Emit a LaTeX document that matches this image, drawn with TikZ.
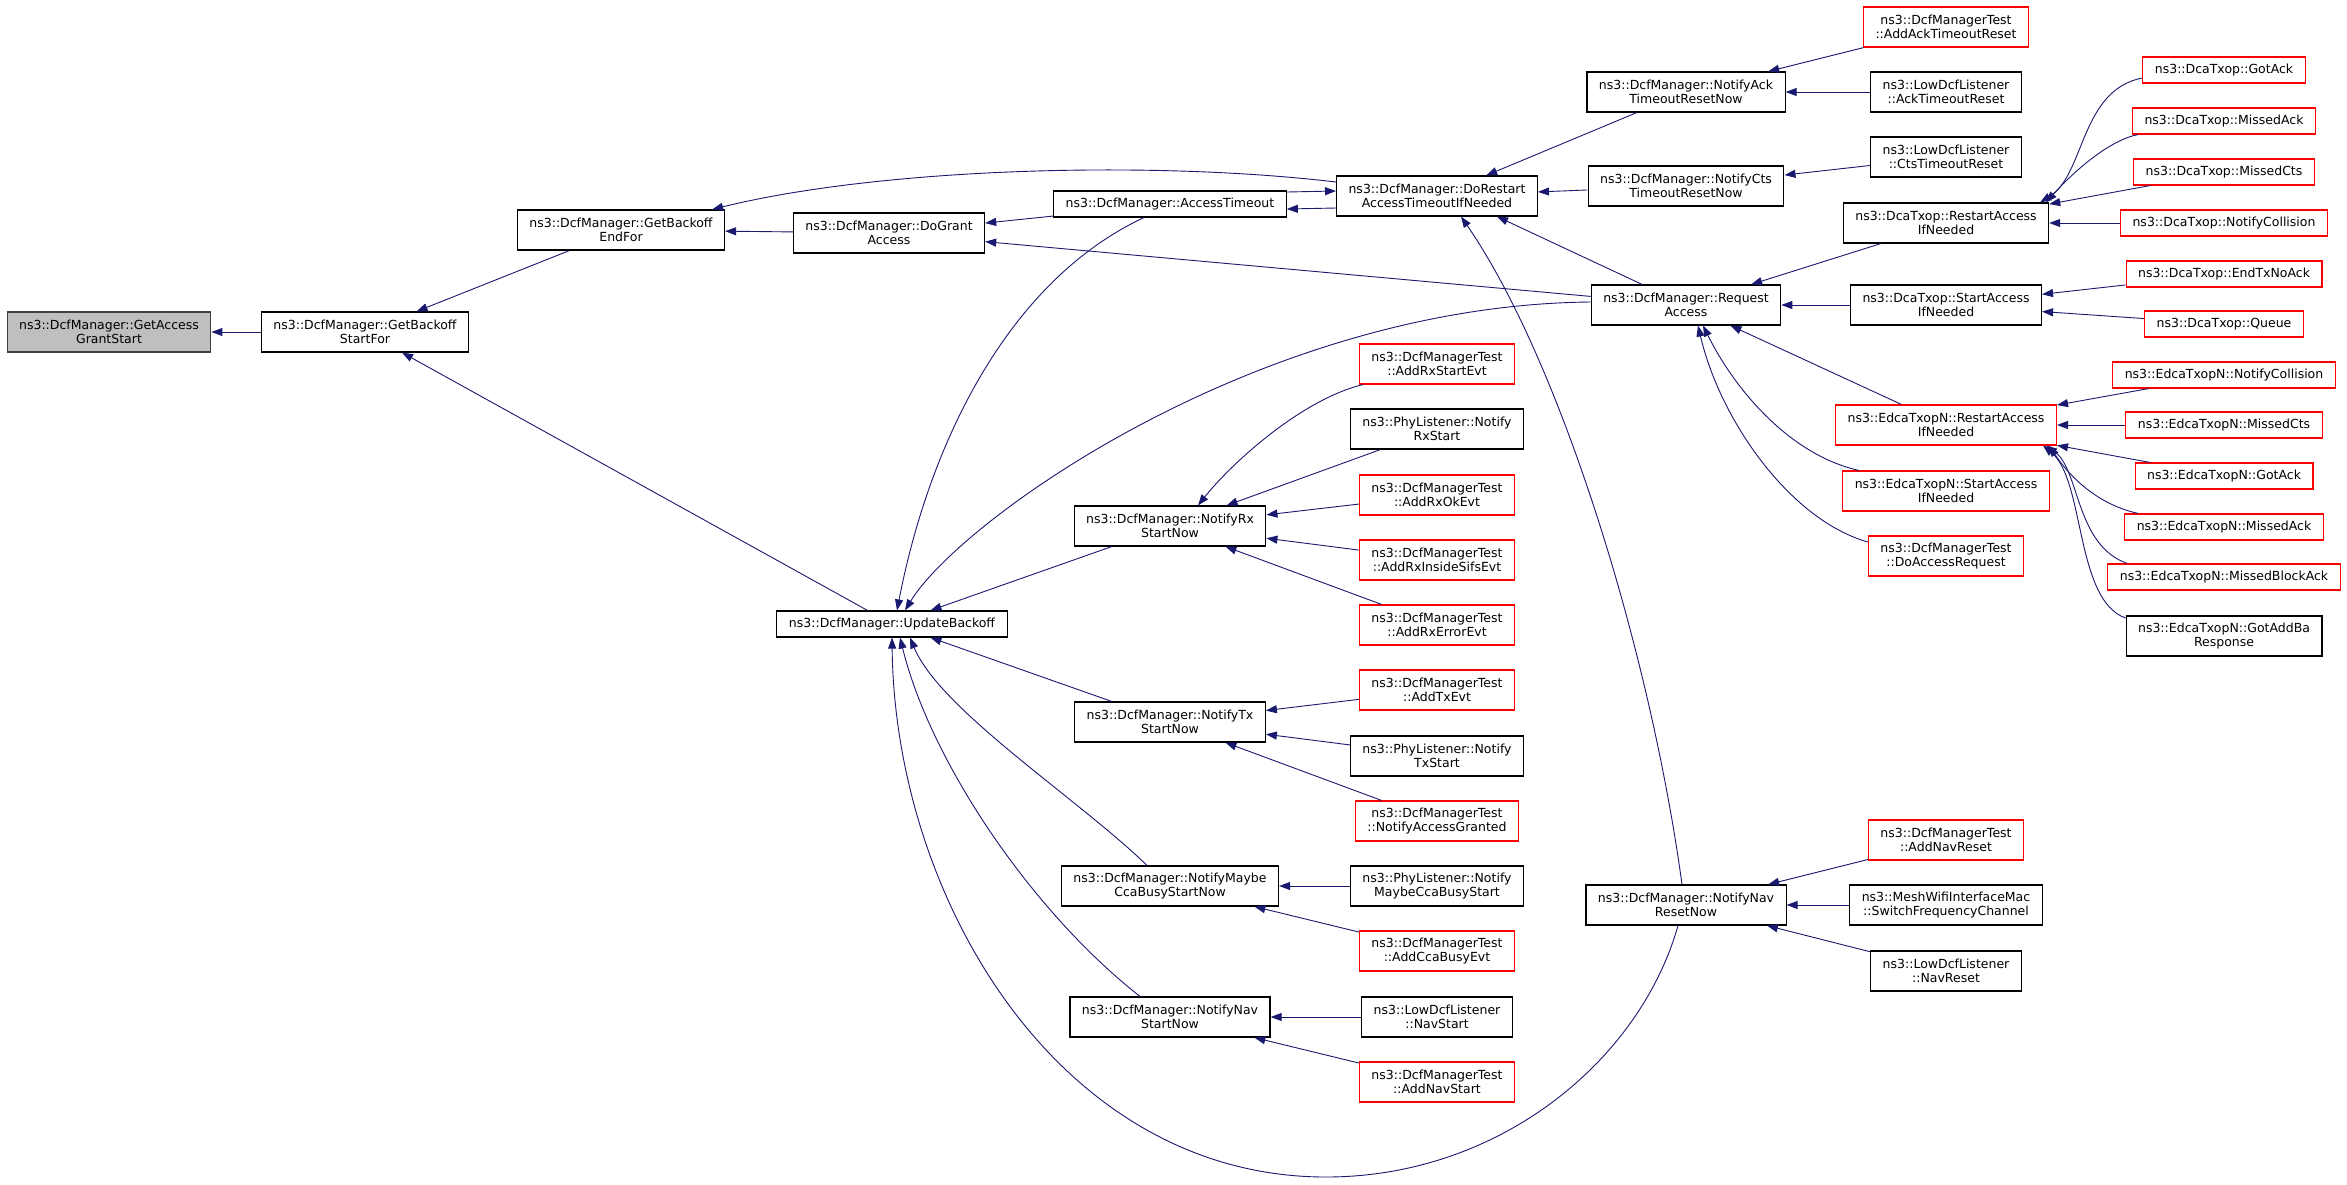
\documentclass[tikz,border=0pt]{standalone}
\usepackage{fontspec}
\setmainfont{DejaVu Sans}
\usepackage{tikz}
\usepackage{xcolor}
\usetikzlibrary{arrows.meta, positioning, calc}
\definecolor{EdgeBlue}{HTML}{191970}
\definecolor{RootGray}{HTML}{BFBFBF}
\definecolor{RootLine}{HTML}{404040}
\definecolor{HotRed}{HTML}{FF0000}

\begin{document}
\begin{tikzpicture}[
    x=1pt, y=-1pt,
    func/.style={rectangle, draw=black, fill=white, line width=1.1pt, align=center,
                 font=\fontsize{12.5}{14.5}\selectfont, inner xsep=12pt, inner ysep=0pt,
                 minimum height=40pt},
    func1/.style={func, minimum height=26pt},
    hot/.style={draw=HotRed},
    root/.style={fill=RootGray, draw=RootLine},
    call/.style={draw=EdgeBlue, line width=0.9pt, {Triangle[length=11pt,width=8pt]}-}
]
    \path[fill=white] (0,0) rectangle (2347,1184);

    % Left part of the caller graph
    \node[func, root] (grant) at (109,332) {ns3::DcfManager::GetAccess\\GrantStart};
    \node[func] (startfor) at (365,332) {ns3::DcfManager::GetBackoff\\StartFor};
    \node[func] (endfor) at (621,230) {ns3::DcfManager::GetBackoff\\EndFor};
    \node[func] (dogrant) at (889,233) {ns3::DcfManager::DoGrant\\Access};
    \node[func1] (upd) at (892,624) {ns3::DcfManager::UpdateBackoff};

    % Notify* column
    \node[func1] (acct) at (1170,204) {ns3::DcfManager::AccessTimeout};
    \node[func] (nrx) at (1170,526) {ns3::DcfManager::NotifyRx\\StartNow};
    \node[func] (ntx) at (1170,722) {ns3::DcfManager::NotifyTx\\StartNow};
    \node[func] (ncca) at (1170,886) {ns3::DcfManager::NotifyMaybe\\CcaBusyStartNow};
    \node[func] (nnavs) at (1170,1017) {ns3::DcfManager::NotifyNav\\StartNow};

    % Listeners and tests of the Notify* calls
    \node[func] (dorestart) at (1437,196) {ns3::DcfManager::DoRestart\\AccessTimeoutIfNeeded};
    \node[func, hot] (addrxstart) at (1437,364) {ns3::DcfManagerTest\\::AddRxStartEvt};
    \node[func] (phyrx) at (1437,429) {ns3::PhyListener::Notify\\RxStart};
    \node[func, hot] (addrxok) at (1437,495) {ns3::DcfManagerTest\\::AddRxOkEvt};
    \node[func, hot] (addrxsifs) at (1437,560) {ns3::DcfManagerTest\\::AddRxInsideSifsEvt};
    \node[func, hot] (addrxerr) at (1437,625) {ns3::DcfManagerTest\\::AddRxErrorEvt};
    \node[func, hot] (addtx) at (1437,690) {ns3::DcfManagerTest\\::AddTxEvt};
    \node[func] (phytx) at (1437,756) {ns3::PhyListener::Notify\\TxStart};
    \node[func, hot] (accgranted) at (1437,821) {ns3::DcfManagerTest\\::NotifyAccessGranted};
    \node[func] (phycca) at (1437,886) {ns3::PhyListener::Notify\\MaybeCcaBusyStart};
    \node[func, hot] (addcca) at (1437,951) {ns3::DcfManagerTest\\::AddCcaBusyEvt};
    \node[func] (lownavstart) at (1437,1017) {ns3::LowDcfListener\\::NavStart};
    \node[func, hot] (addnavstart) at (1437,1082) {ns3::DcfManagerTest\\::AddNavStart};

    % Timeout resets, request and nav reset
    \node[func] (nack) at (1686,92) {ns3::DcfManager::NotifyAck\\TimeoutResetNow};
    \node[func] (ncts) at (1686,186) {ns3::DcfManager::NotifyCts\\TimeoutResetNow};
    \node[func] (rqa) at (1686,305) {ns3::DcfManager::Request\\Access};
    \node[func] (nnavr) at (1686,905) {ns3::DcfManager::NotifyNav\\ResetNow};

    \node[func, hot] (addack) at (1946,27) {ns3::DcfManagerTest\\::AddAckTimeoutReset};
    \node[func] (lowack) at (1946,92) {ns3::LowDcfListener\\::AckTimeoutReset};
    \node[func] (lowcts) at (1946,157) {ns3::LowDcfListener\\::CtsTimeoutReset};
    \node[func] (dcarestart) at (1946,223) {ns3::DcaTxop::RestartAccess\\IfNeeded};
    \node[func] (dcastart) at (1946,305) {ns3::DcaTxop::StartAccess\\IfNeeded};
    \node[func, hot] (edcarestart) at (1946,425) {ns3::EdcaTxopN::RestartAccess\\IfNeeded};
    \node[func, hot] (edcastart) at (1946,491) {ns3::EdcaTxopN::StartAccess\\IfNeeded};
    \node[func, hot] (doaccreq) at (1946,556) {ns3::DcfManagerTest\\::DoAccessRequest};
    \node[func, hot] (addnavreset) at (1946,840) {ns3::DcfManagerTest\\::AddNavReset};
    \node[func] (switchfreq) at (1946,905) {ns3::MeshWifiInterfaceMac\\::SwitchFrequencyChannel};
    \node[func] (lownavreset) at (1946,971) {ns3::LowDcfListener\\::NavReset};

    % Txop callers
    \node[func1, hot] (dcagotack) at (2224,70) {ns3::DcaTxop::GotAck};
    \node[func1, hot] (dcamissack) at (2224,121) {ns3::DcaTxop::MissedAck};
    \node[func1, hot] (dcamisscts) at (2224,172) {ns3::DcaTxop::MissedCts};
    \node[func1, hot] (dcacoll) at (2224,223) {ns3::DcaTxop::NotifyCollision};
    \node[func1, hot] (dcaendtx) at (2224,274) {ns3::DcaTxop::EndTxNoAck};
    \node[func1, hot] (dcaqueue) at (2224,324) {ns3::DcaTxop::Queue};
    \node[func1, hot] (edcacoll) at (2224,375) {ns3::EdcaTxopN::NotifyCollision};
    \node[func1, hot] (edcamisscts) at (2224,425) {ns3::EdcaTxopN::MissedCts};
    \node[func1, hot] (edcagotack) at (2224,476) {ns3::EdcaTxopN::GotAck};
    \node[func1, hot] (edcamissack) at (2224,527) {ns3::EdcaTxopN::MissedAck};
    \node[func1, hot] (edcamissblk) at (2224,577) {ns3::EdcaTxopN::MissedBlockAck};
    \node[func] (gotaddba) at (2224,636) {ns3::EdcaTxopN::GotAddBa\\Response};

    % Calls (arrow at the called function)
    \draw[call] (grant) -- (startfor);
    \draw[call] (startfor) -- (endfor);
    \draw[call] (startfor) -- (upd);
    \draw[call] (endfor) -- (dogrant);
    \draw[call] ([xshift=-13pt]endfor.north east) .. controls (880,168) and (1150,160) .. ([yshift=14pt]dorestart.west);
    \draw[call] (dogrant) -- (acct);
    \draw[call] (dogrant) -- (rqa);
    \draw[call] ([yshift=-5pt]acct.east) -- ([yshift=-12pt]dorestart.west);
    \draw[call] ([yshift=5pt]dorestart.west) -- ([yshift=12pt]acct.east);

    \draw[call] ([xshift=5pt]upd.north) .. controls (930,440) and (1010,280) .. ([xshift=-26pt]acct.south);
    \draw[call] ([xshift=13pt]upd.north) .. controls (960,520) and (1260,305) .. ([yshift=3pt]rqa.west);
    \draw[call] (upd) -- (nrx);
    \draw[call] (upd) -- (ntx);
    \draw[call] ([xshift=18pt]upd.south) .. controls (940,710) and (1080,800) .. ([xshift=-23pt]ncca.north);
    \draw[call] ([xshift=8pt]upd.south) .. controls (930,760) and (1030,910) .. ([xshift=-30pt]nnavs.north);
    \draw[call] (upd.south) .. controls (895,900) and (1060,1177) .. (1326,1177)
        .. controls (1500,1177) and (1640,1060) .. ([xshift=-8pt]nnavr.south);

    \draw[call] (dorestart) -- (nack);
    \draw[call] (dorestart) -- (ncts);
    \draw[call] ([xshift=60pt]dorestart.south) -- (rqa);
    \draw[call] ([xshift=24pt]dorestart.south) .. controls (1560,360) and (1650,650) .. ([xshift=-4pt]nnavr.north);

    \draw[call] (nack) -- (addack);
    \draw[call] (nack) -- (lowack);
    \draw[call] (ncts) -- (lowcts);

    \draw[call] (rqa) -- (dcarestart);
    \draw[call] (rqa) -- (dcastart);
    \draw[call] (rqa) -- (edcarestart);
    \draw[call] ([xshift=17pt]rqa.south) .. controls (1735,390) and (1790,455) .. ([xshift=-87pt]edcastart.north);
    \draw[call] ([xshift=12pt]rqa.south) .. controls (1720,420) and (1790,520) .. ([yshift=14pt]doaccreq.west);

    \draw[call] ([xshift=94pt]dcarestart.north) .. controls (2085,175) and (2080,90) .. ([yshift=-8pt]dcagotack.west);
    \draw[call] ([xshift=100pt]dcarestart.north) .. controls (2075,170) and (2110,140) .. ([xshift=6pt]dcamissack.south west);
    \draw[call] (dcarestart) -- (dcamisscts);
    \draw[call] (dcarestart) -- (dcacoll);
    \draw[call] (dcastart) -- (dcaendtx);
    \draw[call] (dcastart) -- (dcaqueue);

    \draw[call] (edcarestart) -- (edcacoll);
    \draw[call] (edcarestart) -- (edcamisscts);
    \draw[call] (edcarestart) -- (edcagotack);
    \draw[call] ([xshift=103pt]edcarestart.south) .. controls (2072,480) and (2100,505) .. ([xshift=14pt]edcamissack.north west);
    \draw[call] ([xshift=100pt]edcarestart.south) .. controls (2080,470) and (2075,545) .. ([xshift=20pt]edcamissblk.north west);
    \draw[call] ([xshift=97pt]edcarestart.south) .. controls (2085,480) and (2075,600) .. ([yshift=18pt]gotaddba.west);

    \draw[call] ([xshift=28pt]nrx.north) .. controls (1230,465) and (1300,400) .. ([xshift=4pt]addrxstart.south west);
    \draw[call] (nrx) -- (phyrx);
    \draw[call] (nrx) -- (addrxok);
    \draw[call] (nrx) -- (addrxsifs);
    \draw[call] (nrx) -- (addrxerr);

    \draw[call] (ntx) -- (addtx);
    \draw[call] (ntx) -- (phytx);
    \draw[call] (ntx) -- (accgranted);
    \draw[call] (ncca) -- (phycca);
    \draw[call] (ncca) -- (addcca);
    \draw[call] (nnavs) -- (lownavstart);
    \draw[call] (nnavs) -- (addnavstart);

    \draw[call] (nnavr) -- (addnavreset);
    \draw[call] (nnavr) -- (switchfreq);
    \draw[call] (nnavr) -- (lownavreset);
\end{tikzpicture}
\end{document}
